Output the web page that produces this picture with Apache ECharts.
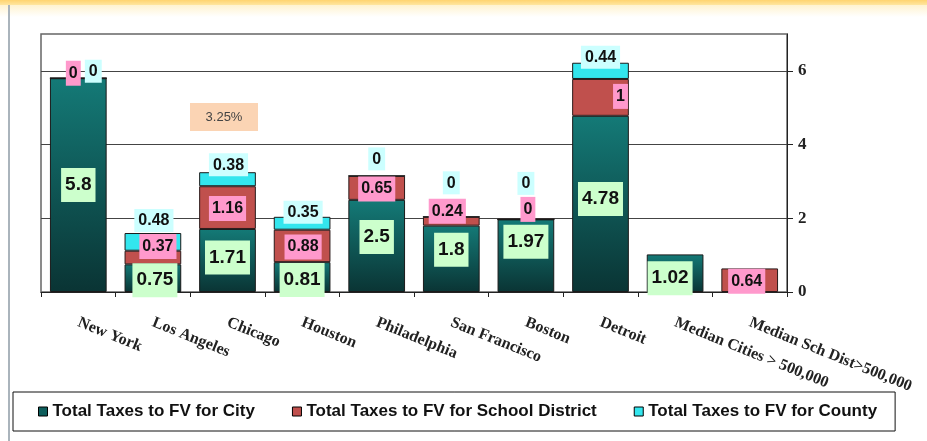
<!DOCTYPE html>
<html>
<head>
<meta charset="utf-8">
<script src="https://cdn.jsdelivr.net/npm/echarts@6/dist/echarts.min.js"></script>
<style>
  html, body { margin: 0; padding: 0; background: #fff; }
  #chart { width: 927px; height: 441px; }
</style>
</head>
<body>
<div id="chart"></div>
<script>
// data
const categories = ['New York', 'Los Angeles', 'Chicago', 'Houston', 'Philadelphia', 'San Francisco', 'Boston', 'Detroit', 'Median Cities > 500,000', 'Median Sch Dist>500,000']
const cityTax = [5.8, 0.75, 1.71, 0.81, 2.5, 1.8, 1.97, 4.78, 1.02, null]
const schoolTax = [0, 0.37, 1.16, 0.88, 0.65, 0.24, 0, 1, null, 0.64]
const countyTax = [0, 0.48, 0.38, 0.35, 0, 0, 0, 0.44, null, null]
const yTicks = [0, 2, 4, 6]
const seriesNames = ['Total Taxes to FV for City', 'Total Taxes to FV for School District', 'Total Taxes to FV for County']

// small label nudges (px) so boxes sit where the original put them
const cityNudge = [[0, 0], [2, 2], [0, -3], [0, 3], [0, -9], [0, -9], [0, -14], [0, -5], [-5, 5], [0, 0]]
const schoolNudge = [[-5, -5], [5, -11], [0, 1], [1, 1], [0, 1], [-4, -10], [2, -10], [20, -1], [0, 0], [-3, 1]]
const countyNudge = [[15, 5], [1, -1], [1, 4], [1, 7], [0, -5], [0, -22], [0, -24], [0, 6], [0, 0], [0, 0]]

const withNudge = (values, nudge) => values.map((v, i) => ({ value: v, label: { offset: nudge[i] } }))

const chart = echarts.init(document.getElementById('chart'))

const labelBase = {
  show: true,
  fontFamily: 'Liberation Sans, Arial, sans-serif',
  fontWeight: 'bold',
  color: '#111'
}

const option = {
  animation: false,
  backgroundColor: '#fff',
  grid: { left: 41, right: 140, top: 34, bottom: 149, show: true, borderColor: '#666', borderWidth: 1.5 },
  legend: {
    left: 13,
    top: 392,
    padding: [11, 18, 11, 25],
    itemGap: 37,
    itemWidth: 9,
    itemHeight: 9,
    icon: 'rect',
    borderColor: '#111',
    borderWidth: 1,
    backgroundColor: '#fff',
    textStyle: { fontFamily: 'Liberation Sans, Arial, sans-serif', fontWeight: 'bold', fontSize: 17, color: '#111' },
    data: [
      { name: seriesNames[0], itemStyle: { color: '#0e5e5c', borderColor: '#000', borderWidth: 1 } },
      { name: seriesNames[1], itemStyle: { color: '#c0504d', borderColor: '#000', borderWidth: 1 } },
      { name: seriesNames[2], itemStyle: { color: '#33e6ee', borderColor: '#000', borderWidth: 1 } }
    ]
  },
  xAxis: {
    type: 'category',
    data: categories,
    axisLine: { lineStyle: { color: '#222', width: 1 } },
    axisTick: { show: true, length: 5, lineStyle: { color: '#222' } },
    axisLabel: {
      interval: 0,
      rotate: -22,
      margin: 30,
      fontFamily: 'Liberation Serif, Times New Roman, serif',
      fontWeight: 'bold',
      fontSize: 16,
      color: '#222'
    }
  },
  yAxis: {
    type: 'value',
    position: 'right',
    min: 0,
    max: 7,
    interval: 1,
    axisLine: { show: true, lineStyle: { color: '#222' } },
    axisTick: { show: true, length: 6, customValues: yTicks, lineStyle: { color: '#222' } },
    axisLabel: {
      customValues: yTicks,
      margin: 11,
      fontFamily: 'Liberation Serif, Times New Roman, serif',
      fontWeight: 'bold',
      fontSize: 17,
      color: '#222'
    },
    splitLine: { show: true, lineStyle: { color: '#444', width: 1 } }
  },
  series: [
    {
      name: seriesNames[0],
      type: 'bar',
      stack: 'tax',
      barCategoryGap: '24%',
      data: withNudge(cityTax, cityNudge),
      itemStyle: {
        color: new echarts.graphic.LinearGradient(0, 0, 0, 1, [
          { offset: 0, color: '#147a77' },
          { offset: 1, color: '#0a3434' }
        ]),
        borderColor: '#1a1a1a',
        borderWidth: 1
      },
      label: { ...labelBase, position: 'inside', fontSize: 19, backgroundColor: '#ccffcc', padding: [8, 4, 7, 4] }
    },
    {
      name: seriesNames[1],
      type: 'bar',
      stack: 'tax',
      data: withNudge(schoolTax, schoolNudge),
      itemStyle: { color: '#c0504d', borderColor: '#2a1a1a', borderWidth: 1 },
      label: { ...labelBase, position: 'inside', fontSize: 16, backgroundColor: '#ff99cc', padding: [5, 3, 4, 3] }
    },
    {
      name: seriesNames[2],
      type: 'bar',
      stack: 'tax',
      data: withNudge(countyTax, countyNudge),
      itemStyle: { color: '#33e6ee', borderColor: '#1a1a1a', borderWidth: 1 },
      label: { ...labelBase, position: 'top', distance: 0, fontSize: 16, backgroundColor: '#ccffff', padding: [4, 4, 3, 4] }
    }
  ],
  graphic: [
    {
      type: 'rect',
      shape: { x: 0, y: 0, width: 927, height: 5 },
      style: { fill: new echarts.graphic.LinearGradient(0, 0, 0, 1, [{ offset: 0, color: '#ffd470' }, { offset: 1, color: '#ffe6a0' }]) },
      silent: true
    },
    {
      type: 'rect',
      shape: { x: 0, y: 5, width: 927, height: 12 },
      style: { fill: new echarts.graphic.LinearGradient(0, 0, 0, 1, [{ offset: 0, color: '#fff3d0' }, { offset: 1, color: '#ffffff' }]) },
      silent: true
    },
    {
      type: 'line',
      shape: { x1: 9, y1: 5, x2: 9, y2: 441 },
      style: { stroke: '#aab4bc', lineWidth: 2 },
      silent: true
    },
    {
      type: 'rect',
      shape: { x: 190, y: 103, width: 68, height: 28 },
      style: { fill: '#fbd4b4' },
      z: 10,
      silent: true
    },
    {
      type: 'text',
      x: 224,
      y: 117,
      style: {
        text: '3.25%',
        fontFamily: 'Liberation Sans, Arial, sans-serif',
        fontSize: 13,
        fill: '#444',
        align: 'center',
        verticalAlign: 'middle'
      },
      z: 11,
      silent: true
    }
  ]
}

chart.setOption(option)
</script>
</body>
</html>
